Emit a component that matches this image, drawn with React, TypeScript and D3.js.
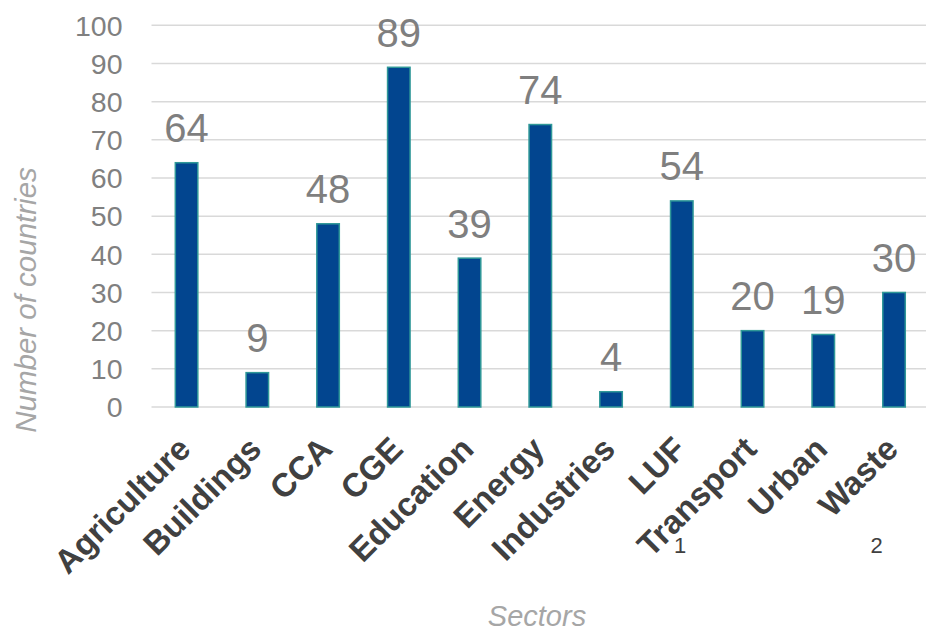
import React from "react";
import * as d3 from "d3";

const categories = ["Agriculture", "Buildings", "CCA", "CGE", "Education", "Energy", "Industries", "LUF", "Transport", "Urban", "Waste"];
const values = [64, 9, 48, 89, 39, 74, 4, 54, 20, 19, 30];
const yTicks = [0, 10, 20, 30, 40, 50, 60, 70, 80, 90, 100];
const footnotes = [
  { text: "1", x: 680 },
  { text: "2", x: 876.5 },
];

const W = 926;
const H = 644;
const FONT = "'Liberation Sans', Arial, Helvetica, sans-serif";

export default function App() {
  const x = d3.scaleBand<string>().domain(categories).range([151.2, 929.4]).padding(0);
  const y = d3.scaleLinear().domain([0, 100]).range([407, 25.3]);
  const barW = 22.5;

  return (
    <svg width={W} height={H} style={{ position: "absolute", left: 0, top: 0, background: "#fff" }} fontFamily={FONT}>
      {yTicks.map((t) => (
        <g key={t}>
          <line x1={151.5} x2={W} y1={y(t)} y2={y(t)} stroke="#d9d9d9" strokeWidth={1.5} />
          <text x={122.5} y={y(t)} dy="0.36em" textAnchor="end" fontSize={28.5} fill="#808080">
            {t}
          </text>
        </g>
      ))}
      {categories.map((c, i) => {
        const cx = (x(c) as number) + x.bandwidth() / 2;
        return (
          <g key={c}>
            <rect
              x={cx - barW / 2}
              y={y(values[i])}
              width={barW}
              height={y(0) - y(values[i])}
              fill="#02458f"
              stroke="#2f9898"
              strokeWidth={1.5}
            />
            <text x={cx} y={y(values[i]) - 20.5} textAnchor="middle" fontSize={40} fill="#7f7f7f">
              {values[i]}
            </text>
            <text
              transform={`translate(${cx + 6},451) rotate(-45)`}
              textAnchor="end"
              fontSize={33}
              fontWeight="bold"
              fill="#404040"
            >
              {c}
            </text>
          </g>
        );
      })}
      {footnotes.map((f) => (
        <text key={f.text} x={f.x} y={553} textAnchor="middle" fontSize={22} fill="#404040">
          {f.text}
        </text>
      ))}
      <text
        transform="translate(36,300) rotate(-90)"
        textAnchor="middle"
        fontSize={29.5}
        fontStyle="italic"
        fill="#a6a6a6"
      >
        Number of countries
      </text>
      <text x={537} y={626} textAnchor="middle" fontSize={29} fontStyle="italic" fill="#a6a6a6">
        Sectors
      </text>
    </svg>
  );
}
